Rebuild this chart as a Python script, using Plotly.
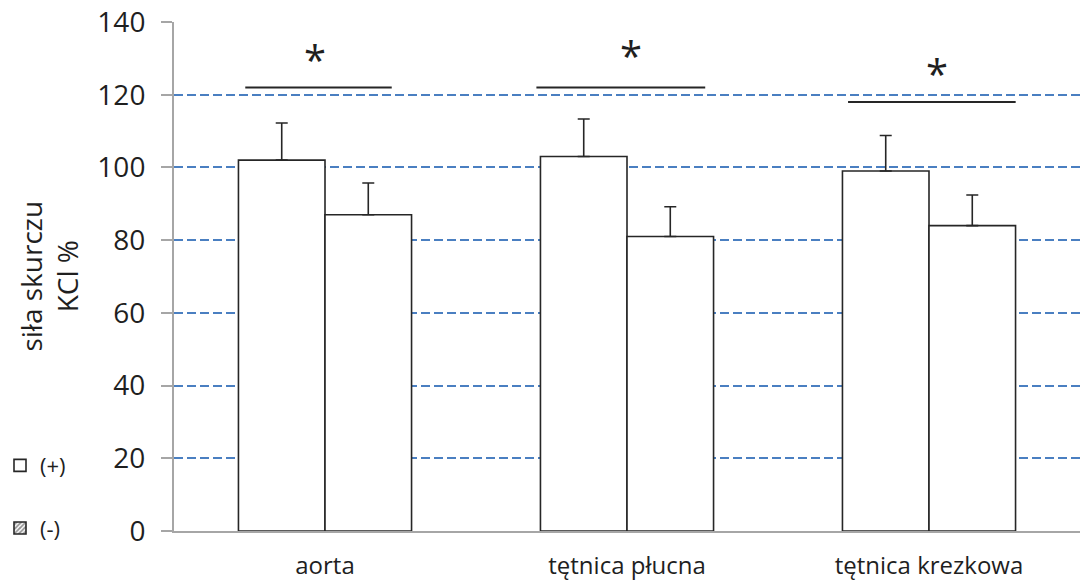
import plotly.graph_objects as go

categories = ["aorta", "tętnica płucna", "tętnica krezkowa"]
plus_values = [102, 103, 99]
plus_err = [10.2, 10.3, 9.8]
minus_values = [87, 81, 84]
minus_err = [8.7, 8.2, 8.4]
series_names = ["(+)", "(-)"]

# significance markers (category units / y data)
sig_x0 = [-0.264, 0.700, 1.732]
sig_x1 = [0.221, 1.259, 2.287]
sig_y = [122, 122, 118]
star_x = [-0.033, 1.012, 2.026]
star_y = [129.8, 130.9, 125.7]

yticks = [0, 20, 40, 60, 80, 100, 120, 140]

FONT = "Open Sans"
TXT = "#1f1f1f"
LINE = "#262626"
BAR_W = 0.2866

fig = go.Figure()
xpos = list(range(len(categories)))

for vals, errs, off in [(plus_values, plus_err, -BAR_W), (minus_values, minus_err, 0.0)]:
    fig.add_trace(go.Bar(
        x=xpos, y=vals, width=[BAR_W] * len(vals), offset=off,
        marker=dict(color="white", line=dict(color=LINE, width=1.6)),
        error_y=dict(type="data", array=errs, arrayminus=[0] * len(errs),
                     symmetric=False, color=LINE, thickness=1.6, width=6),
        showlegend=False,
    ))

# legend-only entries
fig.add_trace(go.Bar(x=[None], y=[None], name=series_names[0], legendgroup="a",
                     marker=dict(color="white", line=dict(color=LINE, width=1.6))))
fig.add_trace(go.Bar(x=[None], y=[None], name=series_names[1], legendgroup="b",
                     marker=dict(color="white", line=dict(color=LINE, width=1.6),
                                 pattern=dict(shape="/", fgcolor="#222222", bgcolor="white",
                                              size=4, solidity=0.55))))

for x0, x1, y in zip(sig_x0, sig_x1, sig_y):
    fig.add_shape(type="line", xref="x", yref="y", x0=x0, x1=x1, y0=y, y1=y,
                  line=dict(color=LINE, width=2))
for x, y in zip(star_x, star_y):
    fig.add_annotation(x=x, y=y, xref="x", yref="y", text="*", showarrow=False,
                       font=dict(family=FONT, size=40, color=TXT), yanchor="middle")

fig.add_annotation(x=-0.139, y=0.5, xref="paper", yref="paper",
                   xanchor="center", yanchor="middle",
                   text="siła skurczu<br>KCl %", showarrow=False, textangle=-90,
                   font=dict(family=FONT, size=28, color=TXT))

fig.update_layout(
    width=1080, height=585,
    margin=dict(l=174, r=0, t=22, b=54),
    paper_bgcolor="white", plot_bgcolor="white",
    barmode="overlay",
    font=dict(family=FONT, color=TXT),
    legend=dict(xref="container", yref="container", x=0.0, y=0.24,
                xanchor="left", yanchor="top", tracegroupgap=31,
                font=dict(family=FONT, size=22, color=TXT),
                bgcolor="rgba(0,0,0,0)"),
    xaxis=dict(range=[-0.5, 2.5], tickmode="array", tickvals=xpos, ticktext=categories,
               showgrid=False, zeroline=False, showline=True, linecolor="#a6a6a6",
               linewidth=2, ticks="", tickfont=dict(family=FONT, size=24, color=TXT),
               ticklabelstandoff=12),
    yaxis=dict(range=[0, 140], tickmode="array", tickvals=yticks,
               showgrid=True, gridcolor="#4a7fc1", gridwidth=1.5, griddash="9px,4px",
               zeroline=False, showline=True, linecolor="#a6a6a6", linewidth=2,
               ticks="outside", ticklen=11, tickcolor="#a6a6a6", tickwidth=2,
               tickfont=dict(family=FONT, size=28, color=TXT), ticklabelstandoff=10),
)

fig.write_html("out.html")
